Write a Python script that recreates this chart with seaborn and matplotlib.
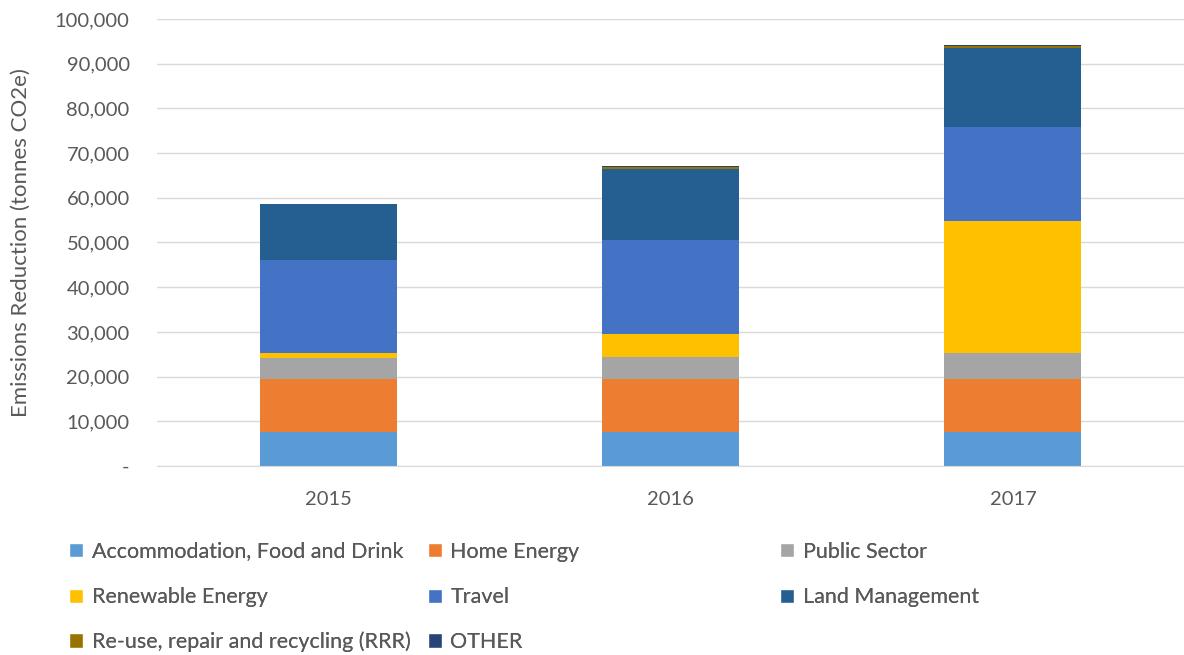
import numpy as np
import pandas as pd
import seaborn as sns
import matplotlib.pyplot as plt
from matplotlib.patches import Patch
from matplotlib.ticker import FuncFormatter

years = ["2015", "2016", "2017"]
categories = [
    "Accommodation, Food and Drink",
    "Home Energy",
    "Public Sector",
    "Renewable Energy",
    "Travel",
    "Land Management",
    "Re-use, repair and recycling (RRR)",
    "OTHER",
]
accommodation = [7500, 7500, 7500]
home_energy = [12000, 12000, 12000]
public_sector = [4700, 4900, 5700]
renewable = [1100, 5200, 29600]
travel = [20700, 21000, 21000]
land_management = [12700, 15800, 17800]
rrr = [0, 450, 360]
other = [0, 300, 300]
colors = ["#5B9BD5", "#ED7D31", "#A5A5A5", "#FFC000",
          "#4472C4", "#255E91", "#997300", "#264478"]

series = [accommodation, home_energy, public_sector, renewable,
          travel, land_management, rrr, other]

sns.set_style("white")
plt.rcParams["font.family"] = ["Lato", "DejaVu Sans"]
text_col = "#595959"

fig = plt.figure(figsize=(11.84, 6.55), dpi=100)
ax = fig.add_axes([0.133, 0.2885, 0.867, 0.6826])

bottom = np.zeros(len(years))
for name, vals, col in zip(categories, series, colors):
    df = pd.DataFrame({"year": years, "value": vals})
    sns.barplot(data=df, x="year", y="value", color=col, width=0.4,
                bottom=bottom, ax=ax, linewidth=0, saturation=1)
    bottom = bottom + np.array(vals)

ax.set_ylim(0, 100000)
ax.set_xlim(-0.5, 2.5)
ax.set_yticks(np.arange(0, 100001, 10000))
ax.yaxis.set_major_formatter(FuncFormatter(lambda v, p: "-" if v == 0 else f"{int(v):,}"))
ax.grid(axis="y", color="#D9D9D9", linewidth=1)
ax.set_axisbelow(True)
for s in ["top", "right", "left"]:
    ax.spines[s].set_visible(False)
ax.spines["bottom"].set_color("#D9D9D9")
ax.tick_params(axis="y", length=0, pad=20, labelsize=14.5, labelcolor=text_col)
ax.tick_params(axis="x", length=0, pad=18, labelsize=14.5, labelcolor=text_col)
ax.set_xlabel("")
ax.set_ylabel("Emissions Reduction (tonnes CO2e)", fontsize=16, color=text_col, labelpad=17)

# legend laid out as an equal-width grid, row by row
col_x = [0.0495, 0.352, 0.65]
row_y = [0.158, 0.088, 0.02]
for i, (name, col) in enumerate(zip(categories, colors)):
    r, c = divmod(i, 3)
    leg = fig.legend(handles=[Patch(facecolor=col)], labels=[name],
                     loc="center left", bbox_to_anchor=(col_x[c], row_y[r]),
                     frameon=False, fontsize=15.5, handlelength=0.65,
                     handleheight=0.65, handletextpad=0.4, borderpad=0,
                     labelcolor=text_col)
    fig.add_artist(leg)

fig.savefig("out.png", dpi=100)
